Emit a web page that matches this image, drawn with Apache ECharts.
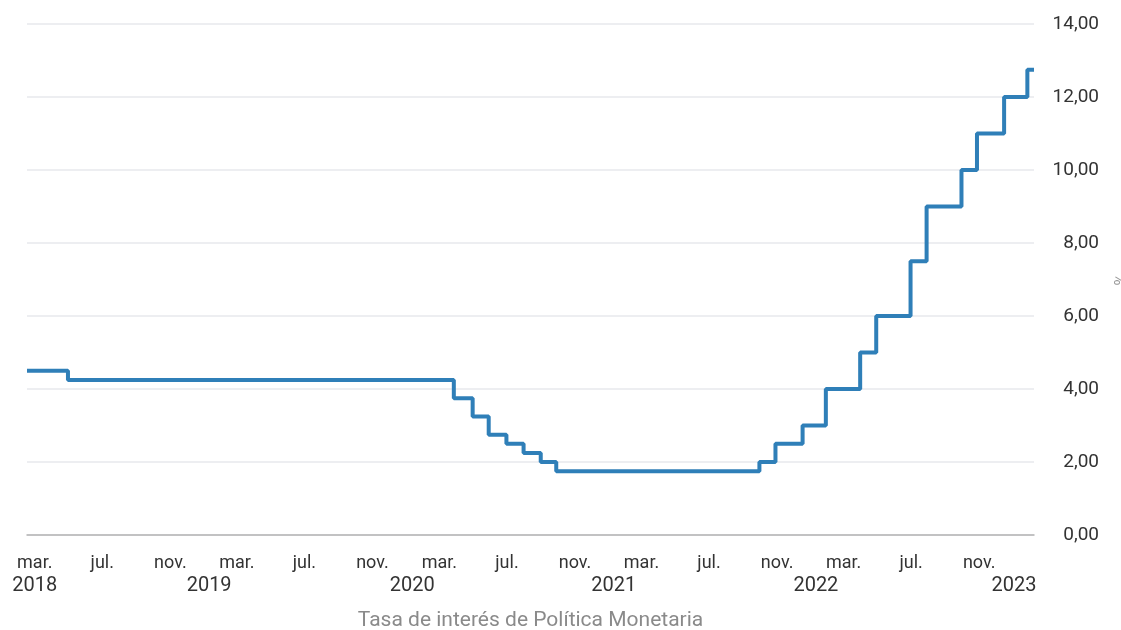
<!DOCTYPE html>
<html>
<head>
<meta charset="utf-8">
<script src="https://cdn.jsdelivr.net/npm/echarts@6/dist/echarts.min.js"></script>
<style>
  html, body { margin: 0; padding: 0; background: #ffffff; }
  #chart { width: 1121px; height: 630px; }
</style>
</head>
<body>
<div id="chart"></div>
<script>
// Tasa de interés de Política Monetaria (%), valor vigente desde cada fecha
const rateDates = [
  '2018-02-15', '2018-04-30', '2020-03-27', '2020-04-30', '2020-05-29',
  '2020-06-30', '2020-07-31', '2020-08-31', '2020-09-28', '2021-09-30',
  '2021-10-29', '2021-12-17', '2022-01-28', '2022-03-31', '2022-04-29',
  '2022-06-30', '2022-07-29', '2022-09-30', '2022-10-28', '2022-12-16',
  '2023-01-27', '2023-02-08'
];
const rateValues = [
  4.50, 4.25, 3.75, 3.25, 2.75,
  2.50, 2.25, 2.00, 1.75, 2.00,
  2.50, 3.00, 4.00, 5.00, 6.00,
  7.50, 9.00, 10.00, 11.00, 12.00,
  12.75, 12.75
];

// Etiquetas del eje temporal: meses en la primera fila, años en la segunda
const monthTickDates = [
  '2018-03-01', '2018-07-01', '2018-11-01', '2019-03-01', '2019-07-01',
  '2019-11-01', '2020-03-01', '2020-07-01', '2020-11-01', '2021-03-01',
  '2021-07-01', '2021-11-01', '2022-03-01', '2022-07-01', '2022-11-01'
];
const monthTickLabels = [
  'mar.', 'jul.', 'nov.', 'mar.', 'jul.',
  'nov.', 'mar.', 'jul.', 'nov.', 'mar.',
  'jul.', 'nov.', 'mar.', 'jul.', 'nov.'
];
const yearTickDates = ['2018-03-01', '2019-01-10', '2020-01-12', '2021-01-10', '2022-01-10', '2023-01-03'];
const yearTickLabels = ['2018', '2019', '2020', '2021', '2022', '2023'];

const yTicks = [0, 2, 4, 6, 8, 10, 12, 14];

const axisStart = '2018-02-15';
const axisEnd = '2023-02-08';

// fechas como milisegundos sobre un eje numérico
const ts = d => new Date(d + 'T00:00:00Z').getTime();
const monthValues = monthTickDates.map(ts);
const yearValues = yearTickDates.map(ts);
const labelFor = (values, labels) => v => {
  const i = values.indexOf(v);
  return i >= 0 ? labels[i] : '';
};

const FONT = 'Roboto, "Noto Sans", sans-serif';
const chart = echarts.init(document.getElementById('chart'), null, { renderer: 'canvas' });

chart.setOption({
  backgroundColor: '#ffffff',
  animation: false,
  grid: { left: 27, right: 87, top: 24, bottom: 95, outerBoundsMode: 'none' },
  xAxis: [
    {
      type: 'value',
      min: ts(axisStart),
      max: ts(axisEnd),
      position: 'bottom',
      name: 'Tasa de interés de Política Monetaria',
      nameLocation: 'middle',
      nameGap: 75,
      nameTextStyle: { color: '#8a8a8a', fontSize: 21, fontFamily: FONT },
      axisLine: { show: true, onZero: false, lineStyle: { color: '#b4b4b4', width: 1.5 } },
      axisTick: { show: false },
      splitLine: { show: false },
      axisLabel: {
        customValues: monthValues,
        formatter: labelFor(monthValues, monthTickLabels),
        color: '#333333',
        fontSize: 18,
        fontFamily: FONT,
        margin: 19,
        hideOverlap: false
      }
    },
    {
      type: 'value',
      min: ts(axisStart),
      max: ts(axisEnd),
      position: 'bottom',
      axisLine: { show: false, onZero: false },
      axisTick: { show: false },
      splitLine: { show: false },
      axisLabel: {
        customValues: yearValues,
        formatter: labelFor(yearValues, yearTickLabels),
        color: '#333333',
        fontSize: 20,
        fontFamily: FONT,
        margin: 41,
        hideOverlap: false
      }
    }
  ],
  yAxis: {
    type: 'value',
    position: 'right',
    min: 0,
    max: 14,
    interval: 2,
    name: '%',
    nameLocation: 'middle',
    nameRotate: -90,
    nameGap: 74,
    nameTextStyle: { color: '#9a9a9a', fontSize: 16, fontFamily: FONT },
    axisLine: { show: false },
    axisTick: { show: false },
    splitLine: { show: true, lineStyle: { color: '#e7e8ec', width: 1.5 } },
    axisLabel: {
      customValues: yTicks,
      formatter: v => v.toFixed(2).replace('.', ','),
      color: '#333333',
      fontSize: 19,
      fontFamily: FONT,
      align: 'right',
      margin: 65
    }
  },
  series: [
    {
      type: 'line',
      step: 'end',
      xAxisIndex: 0,
      showSymbol: false,
      symbol: 'none',
      lineStyle: { color: '#2f7fb8', width: 4 },
      data: rateDates.map((d, i) => [ts(d), rateValues[i]])
    }
  ]
});
</script>
</body>
</html>
